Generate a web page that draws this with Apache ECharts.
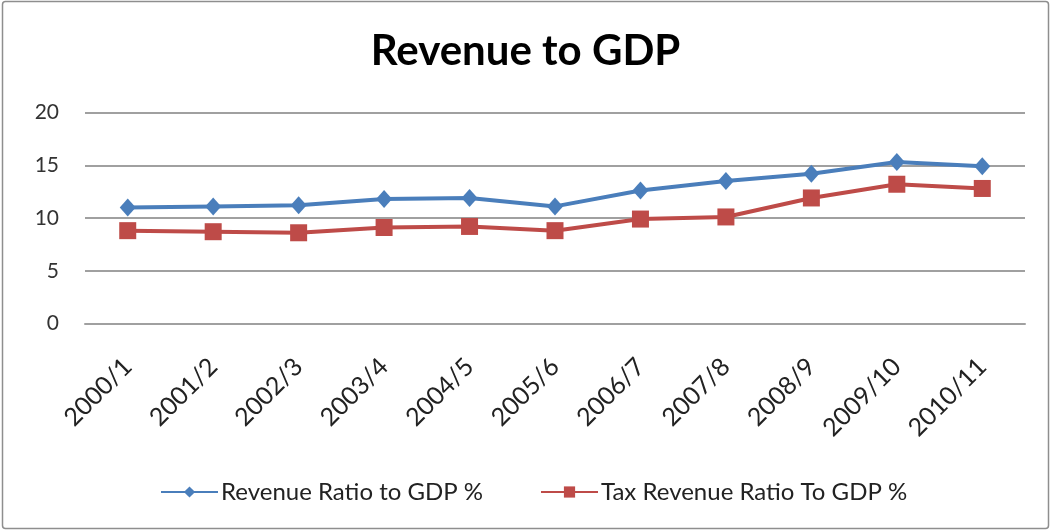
<!DOCTYPE html>
<html>
<head>
<meta charset="utf-8">
<script src="https://cdn.jsdelivr.net/npm/echarts@6/dist/echarts.min.js"></script>
<style>
  html, body { margin: 0; padding: 0; background: #fff; }
  #chart { width: 1051px; height: 531px; }
</style>
</head>
<body>
<div id="chart"></div>
<script>
// Fiscal years
const years = ['2000/1', '2001/2', '2002/3', '2003/4', '2004/5', '2005/6',
               '2006/7', '2007/8', '2008/9', '2009/10', '2010/11'];
// Total revenue as a share of GDP (%)
const revenueRatio = [11.0, 11.1, 11.2, 11.8, 11.9, 11.1, 12.6, 13.5, 14.2, 15.3, 14.9];
// Tax revenue as a share of GDP (%)
const taxRevenueRatio = [8.8, 8.7, 8.6, 9.1, 9.2, 8.8, 9.9, 10.1, 11.9, 13.2, 12.8];
// Value-axis ticks
const yTicks = { min: 0, max: 20, interval: 5 };

const FONT = 'Lato, "Open Sans", sans-serif';
const chart = echarts.init(document.getElementById('chart'), null, { renderer: 'canvas' });

chart.setOption({
  backgroundColor: '#ffffff',
  animation: false,
  title: {
    text: 'Revenue to GDP',
    left: 'center',
    top: 25,
    textStyle: { fontFamily: FONT, fontSize: 42, fontWeight: 'bold', color: '#000' }
  },
  legend: {
    left: 155,
    top: 475,
    itemWidth: 57,
    itemHeight: 14,
    itemGap: 57,
    textStyle: { fontFamily: FONT, fontSize: 24, color: '#222', padding: [0, 0, 0, -2] },
    data: ['Revenue Ratio to GDP %', 'Tax Revenue Ratio To GDP %']
  },
  grid: { left: 85, right: 26, top: 112.5, bottom: 207.5 },
  xAxis: {
    type: 'category',
    data: years,
    boundaryGap: true,
    axisLine: { show: true, lineStyle: { color: '#a0a0a0', width: 2 } },
    axisTick: { show: false },
    axisLabel: {
      rotate: 45,
      margin: 39,
      interval: 0,
      fontFamily: FONT,
      fontSize: 25,
      color: '#222'
    }
  },
  yAxis: {
    type: 'value',
    min: yTicks.min,
    max: yTicks.max,
    interval: yTicks.interval,
    axisLine: { show: false },
    axisTick: { show: false },
    axisLabel: { margin: 26, fontFamily: FONT, fontSize: 21, color: '#333' },
    splitLine: { lineStyle: { color: '#a0a0a0', width: 2 } }
  },
  series: [
    {
      name: 'Revenue Ratio to GDP %',
      type: 'line',
      data: revenueRatio,
      symbol: 'diamond',
      symbolSize: [16, 18],
      color: '#4a7ebb',
      lineStyle: { width: 4, color: '#4a7ebb' },
      itemStyle: { color: '#4a7ebb' }
    },
    {
      name: 'Tax Revenue Ratio To GDP %',
      type: 'line',
      data: taxRevenueRatio,
      symbol: 'rect',
      symbolSize: 17,
      color: '#be4b48',
      lineStyle: { width: 4, color: '#be4b48' },
      itemStyle: { color: '#be4b48' }
    }
  ],
  graphic: [
    {
      type: 'rect',
      shape: { x: 2.5, y: 1.5, width: 1046, height: 527, r: 3 },
      style: { fill: 'none', stroke: '#8e8e8e', lineWidth: 1.5 },
      silent: true,
      z: -1
    }
  ]
});
</script>
</body>
</html>
